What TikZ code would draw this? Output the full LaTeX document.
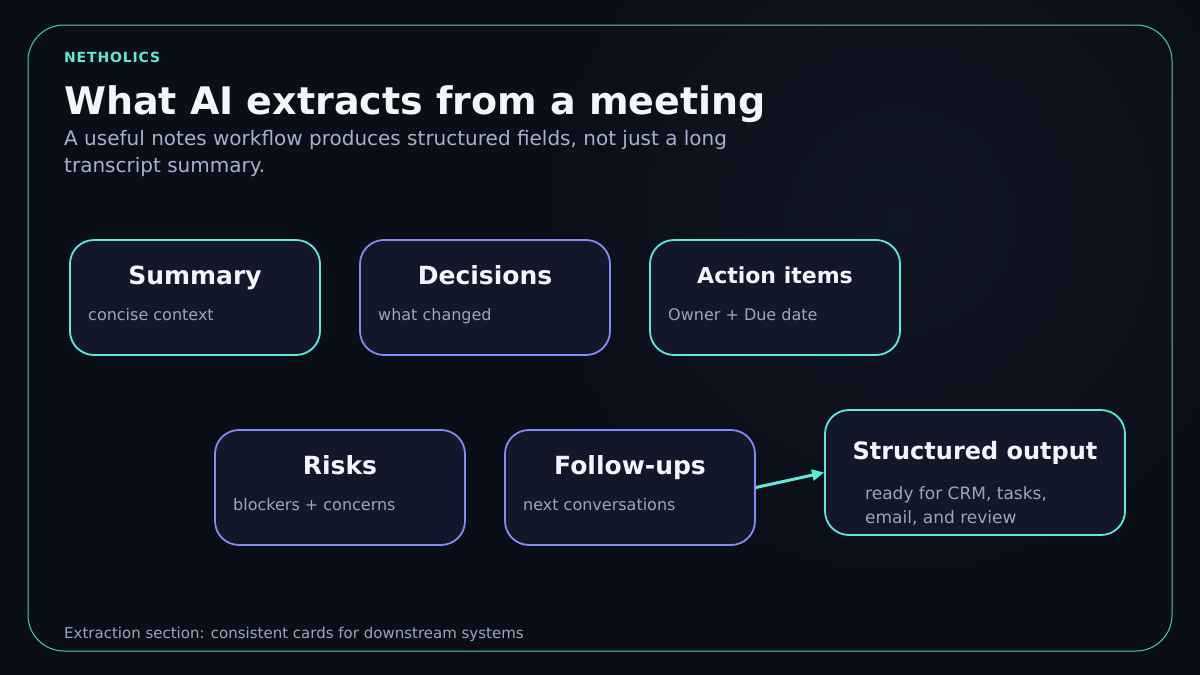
\documentclass[tikz,border=0pt]{standalone}
\usepackage{fontspec}
\setmainfont{DejaVu Sans}
\usetikzlibrary{arrows.meta}
\definecolor{bg}{HTML}{0A0E17}
\definecolor{bgglow}{HTML}{111724}
\definecolor{cardfill}{HTML}{121829}
\definecolor{teal}{HTML}{5EEAD4}
\definecolor{violet}{HTML}{818CF8}
\definecolor{titlecol}{HTML}{F3F5FA}
\definecolor{subcol}{HTML}{A7B1CC}
\definecolor{mutedcol}{HTML}{9AA5BF}
\tikzset{
  card/.style={rounded corners=24pt, fill=cardfill, line width=1.8pt, minimum width=250pt, minimum height=115pt, inner sep=0pt},
  tealcard/.style={card, draw=teal},
  violetcard/.style={card, draw=violet},
  cardtitle/.style={anchor=base, inner sep=0pt, text=titlecol, font=\fontsize{25}{29}\selectfont\bfseries},
  cardbody/.style={anchor=base west, inner sep=0pt, text=mutedcol, font=\fontsize{16}{24}\selectfont, align=left},
  flow/.style={draw=teal, line width=3pt, -{Triangle[length=12pt,width=11pt]}}
}
\begin{document}
\begin{tikzpicture}[x=1pt,y=-1pt]
\useasboundingbox (0,0) rectangle (1200,675);
\fill[bg] (0,0) rectangle (1200,675);
\shade[inner color=bgglow, outer color=bg, opacity=0.9] (900,220) circle (420pt);
\draw[teal, line width=1pt, opacity=0.85, rounded corners=36pt] (28,25) rectangle (1172,651);

\node[anchor=base west, inner sep=0pt, text=teal, font=\fontsize{14}{16}\selectfont\bfseries\addfontfeature{LetterSpace=6}] (brand) at (64,62) {NETHOLICS};
\node[anchor=base west, inner sep=0pt, text=titlecol, font=\fontsize{38}{46}\selectfont\bfseries] (title) at (64,114) {What AI extracts from a meeting};
\node[anchor=base west, inner sep=0pt, text=subcol, font=\fontsize{20}{27}\selectfont, align=left] (subtitle) at (64,172) {A useful notes workflow produces structured fields, not just a long\\transcript summary.};

% row 1
\node[tealcard] (summary) at (195,297.5) {};
\node[cardtitle] (summaryT) at (195,284) {Summary};
\node[cardbody] (summaryB) at (88,320) {concise context};

\node[violetcard] (decisions) at (485,297.5) {};
\node[cardtitle] (decisionsT) at (485,284) {Decisions};
\node[cardbody] (decisionsB) at (378,320) {what changed};

\node[tealcard] (actions) at (775,297.5) {};
\node[cardtitle, font=\fontsize{22}{26}\selectfont\bfseries] (actionsT) at (775,283) {Action items};
\node[cardbody] (actionsB) at (668,320) {Owner + Due date};

% row 2
\node[violetcard] (risks) at (340,487.5) {};
\node[cardtitle] (risksT) at (340,474) {Risks};
\node[cardbody] (risksB) at (233,510) {blockers + concerns};

\node[violetcard] (followups) at (630,487.5) {};
\node[cardtitle] (followupsT) at (630,474) {Follow-ups};
\node[cardbody] (followupsB) at (523,510) {next conversations};

\node[tealcard, minimum width=300pt, minimum height=125pt] (output) at (975,472.5) {};
\node[cardtitle, font=\fontsize{24}{28}\selectfont\bfseries] (outputT) at (975,459) {Structured output};
\node[cardbody, font=\fontsize{17}{24}\selectfont] (outputB) at (865,523) {ready for CRM, tasks,\\email, and review};

\draw[flow] (followups.east) -- (output.west);

\node[anchor=base west, inner sep=0pt, text=mutedcol, font=\fontsize{15}{17}\selectfont] (footer) at (64,638) {Extraction section: consistent cards for downstream systems};
\end{tikzpicture}
\end{document}
